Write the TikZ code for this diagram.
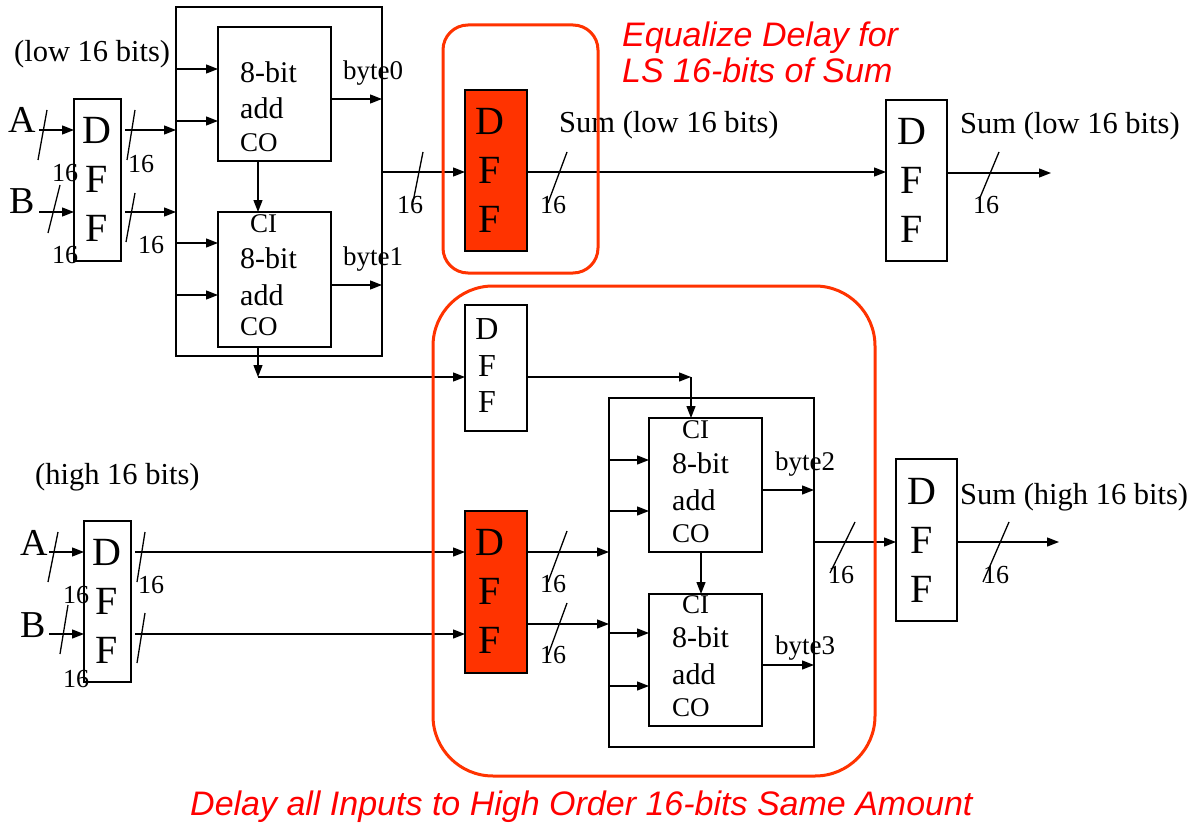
\documentclass[tikz,border=0pt]{standalone}
\usepackage{fontspec}
\setmainfont{Liberation Serif}
\newfontfamily\redfont{Liberation Sans}
\usetikzlibrary{arrows.meta}
\definecolor{dffred}{HTML}{FF3300}
\definecolor{txtred}{HTML}{FF0000}
\tikzset{
  wire/.style={line width=1.3pt},
  arr/.style={wire,-{Triangle[length=12pt,width=9pt]}},
  box/.style={draw,line width=1.3pt,rectangle,inner sep=0pt,outer sep=0pt,anchor=north west},
  reddff/.style={box,fill=dffred},
  grp/.style={draw=dffred,line width=3pt,rounded corners=#1},
  lbl/.style={inner sep=0pt,anchor=base west,font=\fontsize{30.5}{34}\selectfont},
  big/.style={inner sep=0pt,anchor=base west,font=\fontsize{38}{40}\selectfont},
  num/.style={inner sep=0pt,anchor=base west,font=\fontsize{26}{30}\selectfont},
  addt/.style={inner sep=0pt,anchor=base west,font=\fontsize{30}{34}\selectfont},
  cit/.style={inner sep=0pt,anchor=base west,font=\fontsize{27}{30}\selectfont},
  dfftxt/.style={inner sep=0pt,align=center,font=\fontsize{40}{49}\selectfont},
  dffsmall/.style={inner sep=0pt,align=center,font=\fontsize{32}{36.5}\selectfont},
  redtxt/.style={inner sep=0pt,anchor=base west,text=txtred,font=\redfont\itshape\fontsize{34}{36}\selectfont},
  slash/.style={line width=1.3pt},
}
\newcommand\boxat[6]{\node[#1,minimum width=#4pt-#2pt,minimum height=#5pt-#3pt] (#6) at (#2,#3) {};}
\begin{document}
\begin{tikzpicture}[x=1pt,y=-1pt]
\useasboundingbox (0,0) rectangle (1200,824);

% ---------- boxes ----------
\boxat{box}{176}{7}{382}{356}{c1}
\boxat{box}{218}{27}{331}{161}{a1}
\boxat{box}{218}{212}{331}{347}{a2}
\boxat{box}{74}{99}{121}{261}{dL1}
\boxat{reddff}{465}{90}{527}{251}{dR1}
\boxat{box}{886}{100}{947}{261}{dO1}

\boxat{box}{609}{398}{814}{747}{c2}
\boxat{box}{649}{418}{762}{552}{a3}
\boxat{box}{649}{594}{762}{726}{a4}
\boxat{box}{84}{521}{131}{682}{dL2}
\boxat{box}{465}{305}{527}{431}{dCI}
\boxat{reddff}{465}{511}{527}{673}{dR2}
\boxat{box}{896}{459}{957}{621}{dO2}

% ---------- DFF letters ----------
\node[dfftxt] (dL1t) at (97,179) {D\\F\\F};
\node[dfftxt] (dR1t) at (490,170) {D\\F\\F};
\node[dfftxt] (dO1t) at (912,180) {D\\F\\F};
\node[dfftxt] (dL2t) at (107,601) {D\\F\\F};
\node[dffsmall] (dCIt) at (487,366) {D\\F\\F};
\node[dfftxt] (dR2t) at (490,591) {D\\F\\F};
\node[dfftxt] (dO2t) at (922,540) {D\\F\\F};

% ---------- adder texts ----------
\node[addt] (a1a) at (240,83) {8-bit};
\node[addt] (a1b) at (240,119) {add};
\node[cit]  (a1c) at (240,152) {CO};
\node[cit]  (a2i) at (250,233) {CI};
\node[addt] (a2a) at (240,268) {8-bit};
\node[addt] (a2b) at (240,305) {add};
\node[cit]  (a2c) at (240,335) {CO};
\node[cit]  (a3i) at (682,438) {CI};
\node[addt] (a3a) at (672,473) {8-bit};
\node[addt] (a3b) at (672,510) {add};
\node[cit]  (a3c) at (672,542) {CO};
\node[cit]  (a4i) at (682,613) {CI};
\node[addt] (a4a) at (672,647) {8-bit};
\node[addt] (a4b) at (672,684) {add};
\node[cit]  (a4c) at (672,716) {CO};

\node[cit] (b0) at (343,80) {byte0};
\node[cit] (b1) at (343,265) {byte1};
\node[cit] (b2) at (775,470) {byte2};
\node[cit] (b3) at (775,654) {byte3};

% ---------- labels ----------
\node[lbl] (low) at (14,62) {(low 16 bits)};
\node[big] (A1) at (8,133) {A};
\node[big] (B1) at (9,213) {B};
\node[lbl] (high) at (35,484) {(high 16 bits)};
\node[big] (A2) at (20,555) {A};
\node[big] (B2) at (20,637) {B};
\node[lbl] (s1) at (559,133) {Sum (low 16 bits)};
\node[lbl] (s2) at (960,134) {Sum (low 16 bits)};
\node[lbl] (s3) at (960,504) {Sum (high 16 bits)};

\node[num] (n1) at (52,182) {16};
\node[num] (n2) at (52,263) {16};
\node[num] (n3) at (128,172) {16};
\node[num] (n4) at (138,253) {16};
\node[num] (n5) at (397,213) {16};
\node[num] (n6) at (540,213) {16};
\node[num] (n7) at (973,213) {16};
\node[num] (n8) at (63,603) {16};
\node[num] (n9) at (63,687) {16};
\node[num] (n10) at (138,593) {16};
\node[num] (n11) at (540,592) {16};
\node[num] (n12) at (540,663) {16};
\node[num] (n13) at (828,583) {16};
\node[num] (n14) at (983,583) {16};

% ---------- free ends ----------
\coordinate (Ain1) at (39,130);
\coordinate (Bin1) at (39,212);
\coordinate (Sout1) at (1051,173);
\coordinate (Ain2) at (49,552);
\coordinate (Bin2) at (49,634);
\coordinate (Sout2) at (1059,542);
\coordinate (coK) at (258,377);
\coordinate (ciK) at (691,377);

% ---------- connectors top ----------
\draw[arr] (Ain1) -- (dL1.west |- Ain1);
\draw[arr] (Bin1) -- (dL1.west |- Bin1);
\draw[arr,shorten <=4pt] (dL1.east |- Ain1) -- (c1.west |- Ain1);
\draw[arr,shorten <=4pt] (dL1.east |- Bin1) -- (c1.west |- Bin1);
\draw[arr] (c1.west |- 0,69) -- (a1.west |- 0,69);
\draw[arr] (c1.west |- 0,121) -- (a1.west |- 0,121);
\draw[arr] (c1.west |- 0,243) -- (a2.west |- 0,243);
\draw[arr] (c1.west |- 0,295) -- (a2.west |- 0,295);
\draw[arr] (a1.south -| coK) -- (a2.north -| coK);
\draw[arr] (a1.east |- 0,99) -- (c1.east |- 0,99);
\draw[arr] (a2.east |- 0,285) -- (c1.east |- 0,285);
\draw[arr] (c1.east |- 0,172) -- (dR1.west |- 0,172);
\draw[arr] (a2.south -| coK) -- (coK);
\draw[arr] (coK) -- (dCI.west |- coK);
\draw[arr] (dR1.east |- 0,172) -- (dO1.west |- 0,172);
\draw[arr] (dO1.east |- Sout1) -- (Sout1);

% ---------- connectors bottom ----------
\draw[arr] (Ain2) -- (dL2.west |- Ain2);
\draw[arr] (Bin2) -- (dL2.west |- Bin2);
\draw[arr,shorten <=4pt] (dL2.east |- Ain2) -- (dR2.west |- Ain2);
\draw[arr,shorten <=4pt] (dL2.east |- Bin2) -- (dR2.west |- Bin2);
\draw[arr] (dR2.east |- 0,552) -- (c2.west |- 0,552);
\draw[arr] (dR2.east |- 0,624) -- (c2.west |- 0,624);
\draw[arr] (dCI.east |- ciK) -- (ciK);
\draw[arr] (ciK) -- (a3.north -| ciK);
\draw[arr] (c2.west |- 0,460) -- (a3.west |- 0,460);
\draw[arr] (c2.west |- 0,511) -- (a3.west |- 0,511);
\draw[arr] (c2.west |- 0,633) -- (a4.west |- 0,633);
\draw[arr] (c2.west |- 0,686) -- (a4.west |- 0,686);
\draw[arr] (a3.south -| 701,0) -- (a4.north -| 701,0);
\draw[arr] (a3.east |- 0,490) -- (c2.east |- 0,490);
\draw[arr] (a4.east |- 0,665) -- (c2.east |- 0,665);
\draw[arr] (c2.east |- 0,542) -- (dO2.west |- 0,542);
\draw[arr] (dO2.east |- Sout2) -- (Sout2);

% ---------- bus slashes ----------
\draw[slash] (38,160) -- (47,110);
\draw[slash] (48,233) -- (60,185);
\draw[slash] (127,160) -- (135,110);
\draw[slash] (126,242) -- (135,193);
\draw[slash] (413,202) -- (423,152);
\draw[slash] (548,203) -- (567,152);
\draw[slash] (979,200) -- (999,152);
\draw[slash] (48,582) -- (58,532);
\draw[slash] (60,654) -- (68,605);
\draw[slash] (137,582) -- (145,532);
\draw[slash] (137,663) -- (145,613);
\draw[slash] (548,582) -- (567,531);
\draw[slash] (548,655) -- (567,603);
\draw[slash] (830,573) -- (855,522);
\draw[slash] (983,582) -- (1009,522);

% ---------- red groups ----------
\draw[grp=25pt] (443,25) rectangle (598,273);
\draw[grp=60pt] (433,286) rectangle (875,776);

\node[redtxt] (eq1) at (622,47) {Equalize Delay for};
\node[redtxt] (eq2) at (622,83) {LS 16-bits of Sum};
\node[redtxt] (dl) at (190,815) {Delay all Inputs to High Order 16-bits Same Amount};
\end{tikzpicture}
\end{document}
